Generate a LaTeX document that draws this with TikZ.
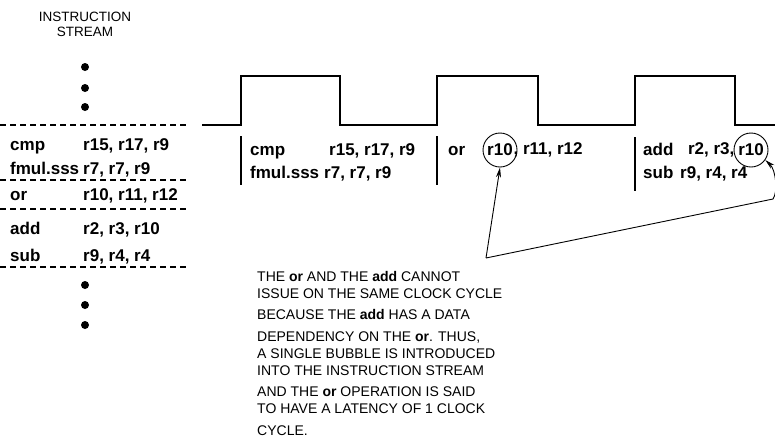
\documentclass[tikz,border=0pt]{standalone}
\usepackage{fontspec}
\setmainfont{Liberation Sans}
\usetikzlibrary{arrows.meta,positioning}
\tikzset{
  heading/.style={font=\fontsize{13.5}{15}\selectfont,align=center,inner sep=0pt},
  code/.style={font=\fontsize{17}{20}\selectfont\bfseries,anchor=base west,inner sep=0pt},
  dotmark/.style={circle,fill=black,inner sep=0pt,minimum size=8pt},
  divider/.style={line width=1.3pt,dash pattern=on 6pt off 4pt},
  clock/.style={line width=1.8pt,line join=miter},
  slotbar/.style={line width=1.4pt},
  ring/.style={circle,draw,line width=0.9pt,minimum size=34pt,inner sep=0pt,
    font=\fontsize{17}{20}\selectfont\bfseries},
  pointer/.style={-{Stealth[length=10pt,width=5pt]},line width=0.9pt},
  note/.style={font=\fontsize{14}{17}\selectfont,align=left,anchor=north west,inner sep=0pt}
}

\begin{document}
\begin{tikzpicture}[x=1pt,y=-1pt]
  \useasboundingbox (0,0) rectangle (775,445);
  % instruction stream on the left
  \node[heading] (title) at (85,24) {INSTRUCTION\\STREAM};
  \foreach \y in {67,88,107,285,305,325}
    \node[dotmark] (dot\y) at (85,\y) {};
  \foreach \y in {125,180,209,267}
    \draw[divider] (0,\y) -- (186,\y);
  \node[code] (cmpop) at (10,150) {cmp};
  \node[code] (cmpargs) at (83,150) {r15, r17, r9};
  \node[code] (fmulop) at (10,174) {fmul.sss};
  \node[code] (fmulargs) at (83,174) {r7, r7, r9};
  \node[code] (orop) at (10,200) {or};
  \node[code] (orargs) at (83,200) {r10, r11, r12};
  \node[code] (addop) at (10,234) {add};
  \node[code] (addargs) at (83,234) {r2, r3, r10};
  \node[code] (subop) at (10,261) {sub};
  \node[code] (subargs) at (83,261) {r9, r4, r4};

  % clock and issue slots
  \draw[clock] (202,125) -- (241,125) -- (241,76) -- (340,76) -- (340,125)
    -- (437,125) -- (437,76) -- (538,76) -- (538,125) -- (635,125)
    -- (635,76) -- (735,76) -- (735,125) -- (775,125);
  \draw[slotbar] (241,136) -- (241,185);
  \draw[slotbar] (437,136) -- (437,185);
  \draw[slotbar] (635,137) -- (635,191);
  \node[code] (slotcmp) at (250,155) {cmp};
  \node[code] (slotcmpargs) at (329,155) {r15, r17, r9};
  \node[code] (slotfmul) at (250,178) {fmul.sss};
  \node[code] (slotfmulargs) at (324,178) {r7, r7, r9};
  \node[code] (slotor) at (448,155) {or};
  \node[ring] (orring) at (500,150) {r10};
  \node[code,anchor=west,right=-4pt of orring] (slotorargs) {, r11, r12};
  \node[code] (slotadd) at (643,155) {add};
  \node[ring] (addring) at (751,150) {r10};
  \node[code,anchor=east,left=-1pt of addring] (slotaddargs) {r2, r3,};
  \node[code] (slotsub) at (643,178) {sub};
  \node[code] (slotsubargs) at (680,178) {r9, r4, r4};

  % explanation and pointers
  \node[note] (why) at (257,271) {THE \textbf{or} AND THE \textbf{add} CANNOT\\
    ISSUE ON THE SAME CLOCK CYCLE\\[4.5pt]
    BECAUSE THE \textbf{add} HAS A DATA\\[4.5pt]
    DEPENDENCY ON THE \textbf{or}. THUS,\\
    A SINGLE BUBBLE IS INTRODUCED\\
    INTO THE INSTRUCTION STREAM\\[4.5pt]
    AND THE \textbf{or} OPERATION IS SAID\\
    TO HAVE A LATENCY OF 1 CLOCK\\[4.5pt]
    CYCLE.};
  \coordinate (knee) at (486,258);
  \coordinate (rim) at (773,199);
  \draw[pointer] (knee) -- (orring.south);
  \draw[pointer] (knee) -- (rim) .. controls (778,192) and (776,170) .. (addring.-35);
\end{tikzpicture}
\end{document}
